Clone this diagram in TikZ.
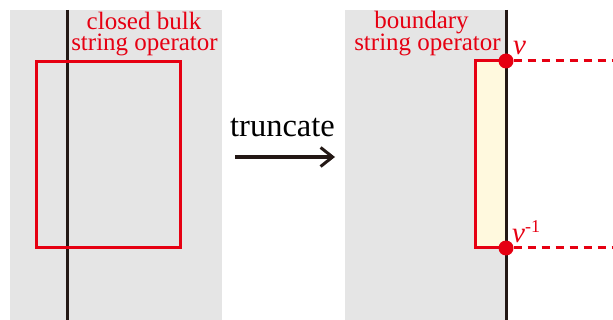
\documentclass[tikz,border=0pt]{standalone}
\usepackage{fontspec}
\setmainfont{Liberation Serif}
\usetikzlibrary{arrows.meta}
\definecolor{myred}{RGB}{230,0,18}
\definecolor{mygray}{RGB}{229,229,229}
\definecolor{myyellow}{RGB}{255,249,222}
\definecolor{myblack}{RGB}{35,24,21}
\begin{document}
\begin{tikzpicture}[x=1pt,y=-1pt,
  panel/.style={fill=mygray,draw=none},
  wire/.style={draw=myblack,line width=3pt},
  redbox/.style={draw=myred,line width=3pt},
  lbl/.style={text=myred,font=\fontsize{25}{25}\selectfont,inner sep=0pt,anchor=base},
  vlbl/.style={text=myred,font=\fontsize{29}{29}\selectfont\itshape,inner sep=0pt,anchor=base west},
  dot/.style={circle,fill=myred,minimum size=15pt,inner sep=0pt},
  dashline/.style={draw=myred,line width=3pt,dash pattern=on 8pt off 6pt}]
\useasboundingbox (0,0) rectangle (613,320);
% left panel
\fill[panel] (10,10) rectangle (222,320);
\draw[wire] (67,10) -- (67,320);
\draw[redbox] (36,62) rectangle (180,248);
\node[lbl] (l1a) at (144,30) {closed bulk};
\node[lbl] (l1b) at (144.5,51) {string operator};
% arrow
\node[font=\fontsize{32.5}{32.5}\selectfont,inner sep=0pt,anchor=base] (tr) at (282.5,137) {truncate};
\coordinate (a1) at (235,157);
\coordinate (a2) at (335,157);
\draw[line width=3.2pt,myblack,-{Straight Barb[length=12pt,width=19pt,line width=3pt]}] (a1) -- (a2);
% right panel
\fill[panel] (345,10) rectangle (506,320);
\fill[myyellow] (475,61) rectangle (506,248);
\draw[redbox] (506,61) -- (475,61) -- (475,248) -- (506,248);
\draw[wire] (506,10) -- (506,320);
\node[dot] (v) at (506,61) {};
\node[dot] (vi) at (506,248) {};
\coordinate (e1) at (613,61);
\coordinate (e2) at (613,248);
\draw[dashline] (v) -- (e1);
\draw[dashline] (vi) -- (e2);
\node[lbl] (l2a) at (421.5,29) {boundary};
\node[lbl] (l2b) at (427.5,51) {string operator};
\node[vlbl] (vl) at (513,55) {v};
\node[vlbl] (vil) at (512,243) {v\raisebox{10pt}{\fontsize{18}{18}\selectfont\upshape -1}};
\end{tikzpicture}
\end{document}
